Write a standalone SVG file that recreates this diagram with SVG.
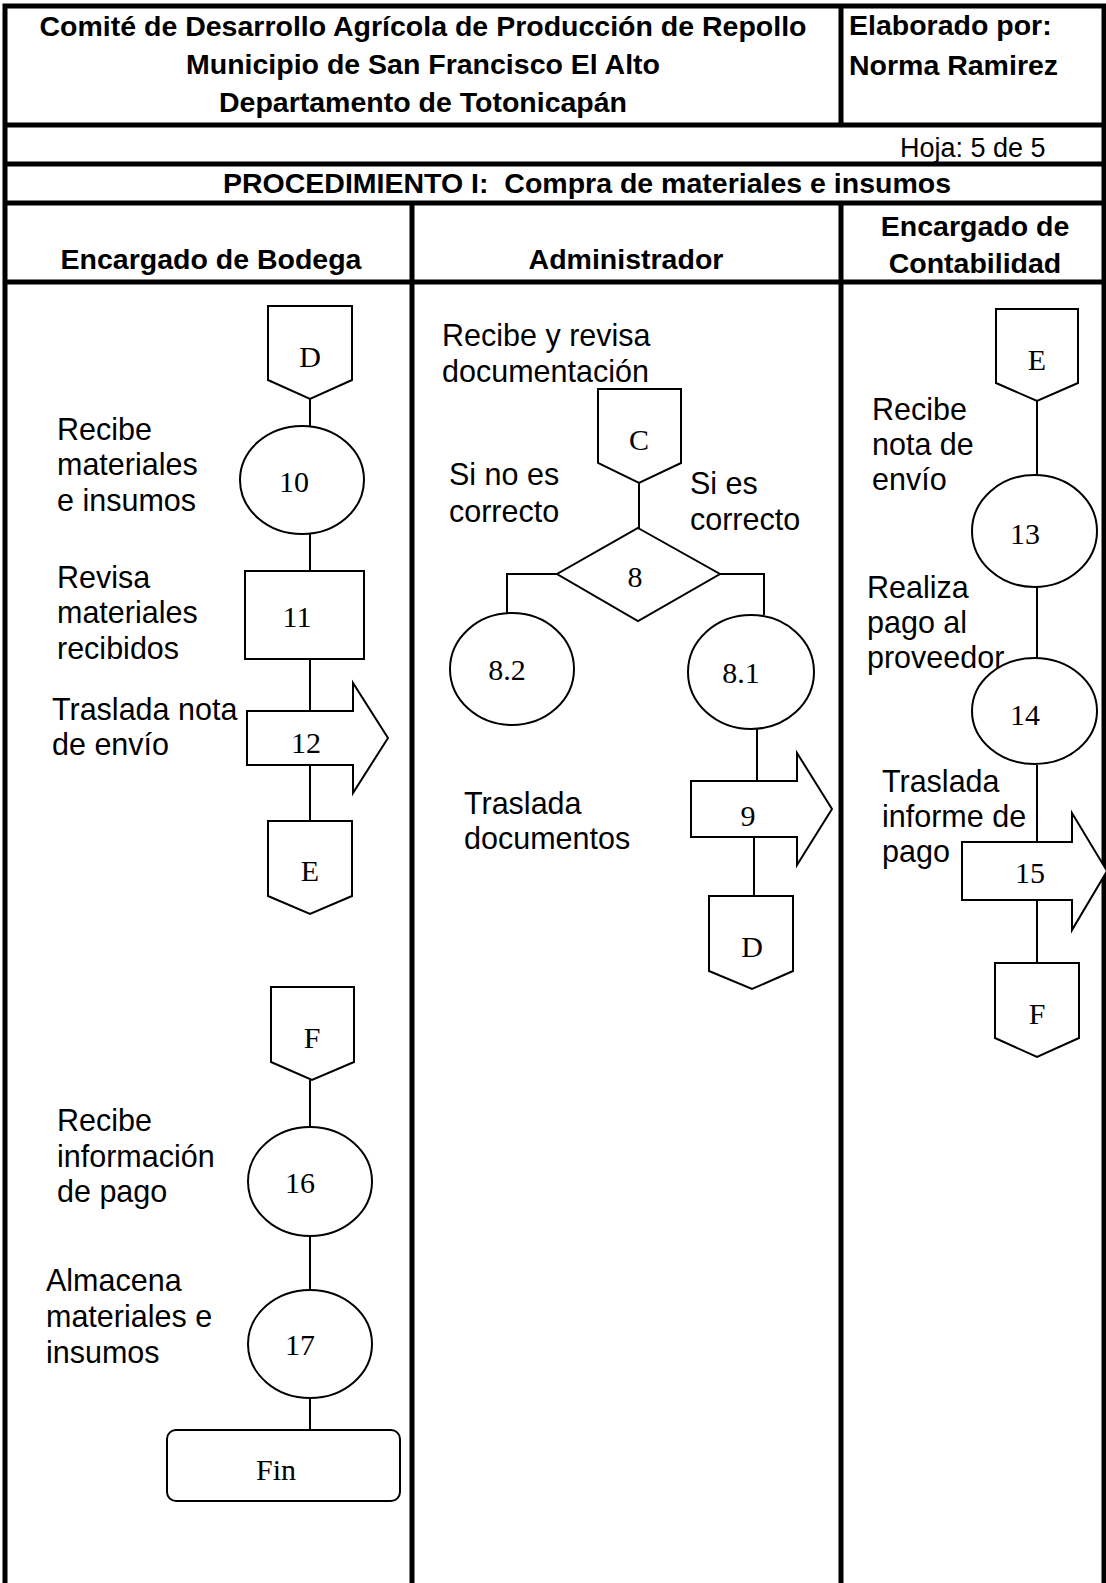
<svg xmlns="http://www.w3.org/2000/svg" width="1106" height="1583" viewBox="0 0 1106 1583">
<style>
.grid{stroke:#000;stroke-width:5;fill:none}
.sh{stroke:#000;stroke-width:2;fill:#fff}
.ln{stroke:#000;stroke-width:2;fill:none}
.hb{font-family:"Liberation Sans",Arial,sans-serif;font-weight:bold;font-size:28.5px;fill:#000}
.hr{font-family:"Liberation Sans",Arial,sans-serif;font-size:27px;fill:#000}
.lb{font-family:"Liberation Sans",Arial,sans-serif;font-size:30.5px;fill:#000}
.nm{font-family:"Liberation Serif","Times New Roman",serif;font-size:30px;fill:#000;text-anchor:middle}
</style>
<rect width="1106" height="1583" fill="#fff"/>
<g id="table">
<path class="grid" d="M5,1583 V6 H1104 V1583 M5,125 H1104 M5,164 H1104 M5,203 H1104 M5,282 H1104 M841,6 V125 M841,203 V1583 M412,203 V1583"/>
<text class="hb" x="423" y="36" text-anchor="middle">Comité de Desarrollo Agrícola de Producción de Repollo</text>
<text class="hb" x="423" y="74" text-anchor="middle">Municipio de San Francisco El Alto</text>
<text class="hb" x="423" y="112" text-anchor="middle">Departamento de Totonicapán</text>
<text class="hb" x="849" y="35">Elaborado por:</text>
<text class="hb" x="849" y="75">Norma Ramirez</text>
<text class="hr" x="900" y="157">Hoja: 5 de 5</text>
<text class="hb" x="587" y="193" text-anchor="middle">PROCEDIMIENTO I:&#160; Compra de materiales e insumos</text>
<text class="hb" x="211" y="269" text-anchor="middle">Encargado de Bodega</text>
<text class="hb" x="626" y="269" text-anchor="middle">Administrador</text>
<text class="hb" x="975" y="236" text-anchor="middle">Encargado de</text>
<text class="hb" x="975" y="273" text-anchor="middle">Contabilidad</text>
</g>
<g id="connectors">
<path class="ln" d="M310,399 V426 M310,534 V571 M310,659 V711 M310,765 V821"/>
<path class="ln" d="M310,1080 V1127 M310,1236 V1290 M310,1398 V1430"/>
<path class="ln" d="M639,483 V528 M557,574 H507 V613 M720,574 H764 V615 M757,729 V781 M754,837 V896"/>
<path class="ln" d="M1037,401 V475 M1037,587 V658 M1037,765 V842 M1037,900 V963"/>
</g>
<g id="lane1-D"><path class="sh" d="M268,306 H352 V380 L310,399 L268,380 Z"/><text class="nm" x="310" y="367">D</text></g>
<g id="n10"><ellipse class="sh" cx="302" cy="480" rx="62" ry="54"/><text class="nm" x="294" y="492">10</text></g>
<g id="n11"><rect class="sh" x="245" y="571" width="119" height="88"/><text class="nm" x="297" y="627">11</text></g>
<g id="n12"><path class="sh" d="M247,711 H353 V683 L388,738 L353,793 V765 H247 Z"/><text class="nm" x="306" y="753">12</text></g>
<g id="lane1-E"><path class="sh" d="M268,821 H352 V896 L310,914 L268,896 Z"/><text class="nm" x="310" y="881">E</text></g>
<g id="lane1-F"><path class="sh" d="M271,987 H354 V1062 L312,1080 L271,1062 Z"/><text class="nm" x="312" y="1048">F</text></g>
<g id="n16"><ellipse class="sh" cx="310" cy="1181.5" rx="62" ry="54.5"/><text class="nm" x="300" y="1193">16</text></g>
<g id="n17"><ellipse class="sh" cx="310" cy="1344" rx="62" ry="54"/><text class="nm" x="300" y="1355">17</text></g>
<g id="fin"><rect class="sh" x="167" y="1430" width="233" height="71" rx="9"/><text class="nm" x="276" y="1480">Fin</text></g>
<g id="labels1">
<text class="lb" x="57" y="440">Recibe</text><text class="lb" x="57" y="475">materiales</text><text class="lb" x="57" y="511">e insumos</text>
<text class="lb" x="57" y="588">Revisa</text><text class="lb" x="57" y="623">materiales</text><text class="lb" x="57" y="659">recibidos</text>
<text class="lb" x="52" y="720">Traslada nota</text><text class="lb" x="52" y="755">de envío</text>
<text class="lb" x="57" y="1131">Recibe</text><text class="lb" x="57" y="1167">información</text><text class="lb" x="57" y="1202">de pago</text>
<text class="lb" x="46" y="1291">Almacena</text><text class="lb" x="46" y="1327">materiales e</text><text class="lb" x="46" y="1363">insumos</text>
</g>
<g id="lane2-C"><path class="sh" d="M598,389 H681 V463 L639,483 L598,463 Z"/><text class="nm" x="639" y="450">C</text></g>
<g id="n8"><path class="sh" d="M638,528 L720,574 L638,621 L557,574 Z"/><text class="nm" x="635" y="587">8</text></g>
<g id="n8-2"><ellipse class="sh" cx="512" cy="669" rx="62" ry="56"/><text class="nm" x="507" y="680">8.2</text></g>
<g id="n8-1"><ellipse class="sh" cx="751" cy="672" rx="63" ry="57"/><text class="nm" x="741" y="683">8.1</text></g>
<g id="n9"><path class="sh" d="M691,781 H797 V753 L832,809 L797,865 V837 H691 Z"/><text class="nm" x="748" y="826">9</text></g>
<g id="lane2-D"><path class="sh" d="M709,896 H793 V971 L752,989 L709,971 Z"/><text class="nm" x="752" y="957">D</text></g>
<g id="labels2">
<text class="lb" x="442" y="346">Recibe y revisa</text><text class="lb" x="442" y="382">documentación</text>
<text class="lb" x="449" y="485">Si no es</text><text class="lb" x="449" y="522">correcto</text>
<text class="lb" x="690" y="494">Si es</text><text class="lb" x="690" y="530">correcto</text>
<text class="lb" x="464" y="814">Traslada</text><text class="lb" x="464" y="849">documentos</text>
</g>
<g id="lane3-E"><path class="sh" d="M996,309 H1078 V383 L1037,401 L996,383 Z"/><text class="nm" x="1037" y="370">E</text></g>
<g id="n13"><ellipse class="sh" cx="1034.5" cy="531" rx="62.5" ry="56"/><text class="nm" x="1025" y="544">13</text></g>
<g id="n14"><ellipse class="sh" cx="1034.5" cy="711" rx="62.5" ry="53"/><text class="nm" x="1025" y="725">14</text></g>
<g id="n15"><path class="sh" d="M962,842 H1072 V813 L1107,871 L1072,930 V900 H962 Z"/><text class="nm" x="1030" y="883">15</text></g>
<g id="lane3-F"><path class="sh" d="M995,963 H1079 V1038 L1037,1057 L995,1038 Z"/><text class="nm" x="1037" y="1024">F</text></g>
<g id="labels3">
<text class="lb" x="872" y="420">Recibe</text><text class="lb" x="872" y="455">nota de</text><text class="lb" x="872" y="490">envío</text>
<text class="lb" x="867" y="598">Realiza</text><text class="lb" x="867" y="633">pago al</text><text class="lb" x="867" y="668">proveedor</text>
<text class="lb" x="882" y="792">Traslada</text><text class="lb" x="882" y="827">informe de</text><text class="lb" x="882" y="862">pago</text>
</g>
</svg>
